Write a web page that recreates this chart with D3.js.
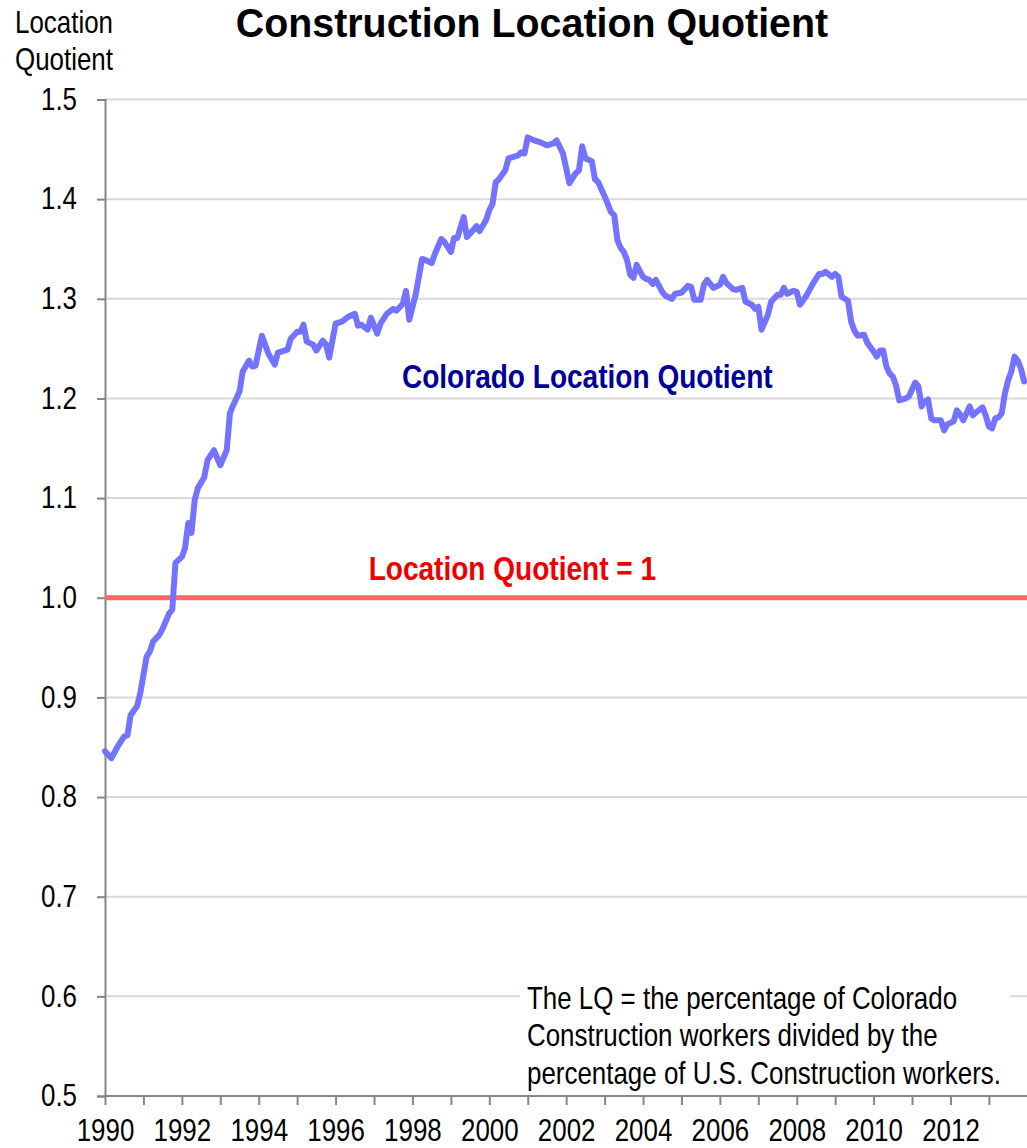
<!DOCTYPE html>
<html>
<head>
<meta charset="utf-8">
<script src="https://cdn.jsdelivr.net/npm/d3@7"></script>
<style>
	body { margin: 0; background: #fff; }
	text { font-family: "Liberation Sans", Arial, sans-serif; }
</style>
</head>
<body>
<script>
// months since Jan 1990 and the Colorado location quotient read at those months
const monthIndex = [
	0, 2, 4, 6, 7, 8, 10, 11, 13, 14,
	15, 17, 18, 20, 21, 22, 24, 25, 26, 27,
	28, 29, 31, 32, 34, 36, 38, 39, 40, 42,
	43, 45, 46, 47, 49, 51, 53, 54, 57, 58,
	60, 61, 62, 63, 65, 66, 68, 69, 70, 72,
	74, 76, 78, 79, 80, 82, 83, 85, 86, 88,
	90, 91, 93, 94, 95, 97, 99, 100, 102, 103,
	105, 106, 108, 109, 110, 112, 113, 115, 116, 117,
	119, 120, 121, 122, 123, 125, 126, 127, 129, 130,
	131, 132, 134, 136, 138, 140, 141, 143, 145, 147,
	148, 149, 150, 152, 153, 154, 156, 158, 159, 160,
	161, 162, 163, 164, 165, 166, 168, 169, 170, 171,
	172, 174, 175, 177, 178, 180, 182, 183, 184, 186,
	187, 188, 190, 192, 193, 194, 196, 197, 199, 200,
	202, 203, 204, 205, 207, 208, 210, 211, 212, 213,
	215, 216, 217, 219, 221, 223, 224, 225, 227, 228,
	229, 230, 232, 233, 234, 235, 237, 238, 240, 241,
	242, 243, 244, 245, 246, 247, 248, 250, 251, 253,
	254, 255, 256, 257, 258, 259, 261, 262, 263, 265,
	266, 267, 268, 269, 270, 271, 272, 274, 275, 276,
	277, 278, 279, 280, 281, 282, 283, 284, 285, 286, 287
];
const coloradoLQ = [
	0.846, 0.839, 0.851, 0.861, 0.862, 0.882, 0.891, 0.904, 0.941, 0.946,
	0.956, 0.963, 0.969, 0.984, 0.988, 1.035, 1.041, 1.050, 1.075, 1.065,
	1.098, 1.110, 1.121, 1.138, 1.148, 1.133, 1.148, 1.185, 1.193, 1.207,
	1.227, 1.238, 1.232, 1.233, 1.263, 1.245, 1.234, 1.246, 1.249, 1.260,
	1.267, 1.267, 1.274, 1.257, 1.254, 1.248, 1.258, 1.254, 1.241, 1.275,
	1.277, 1.282, 1.285, 1.273, 1.274, 1.269, 1.281, 1.265, 1.275, 1.285,
	1.290, 1.288, 1.295, 1.308, 1.279, 1.304, 1.340, 1.339, 1.336, 1.345,
	1.360, 1.357, 1.347, 1.361, 1.361, 1.382, 1.362, 1.369, 1.373, 1.368,
	1.379, 1.389, 1.395, 1.417, 1.420, 1.429, 1.441, 1.442, 1.444, 1.447,
	1.446, 1.462, 1.459, 1.457, 1.454, 1.456, 1.459, 1.446, 1.416, 1.426,
	1.429, 1.453, 1.441, 1.438, 1.420, 1.417, 1.403, 1.387, 1.384, 1.359,
	1.351, 1.347, 1.339, 1.324, 1.321, 1.334, 1.322, 1.320, 1.319, 1.315,
	1.319, 1.307, 1.303, 1.300, 1.305, 1.306, 1.313, 1.312, 1.299, 1.299,
	1.314, 1.319, 1.311, 1.314, 1.322, 1.316, 1.310, 1.309, 1.311, 1.297,
	1.294, 1.290, 1.292, 1.269, 1.284, 1.297, 1.304, 1.304, 1.311, 1.305,
	1.308, 1.307, 1.294, 1.303, 1.315, 1.325, 1.325, 1.327, 1.322, 1.325,
	1.322, 1.302, 1.298, 1.277, 1.268, 1.263, 1.264, 1.256, 1.247, 1.242,
	1.248, 1.248, 1.232, 1.225, 1.222, 1.213, 1.198, 1.200, 1.202, 1.216,
	1.212, 1.192, 1.197, 1.199, 1.180, 1.178, 1.178, 1.168, 1.174, 1.177,
	1.188, 1.184, 1.178, 1.185, 1.192, 1.183, 1.186, 1.191, 1.183, 1.172,
	1.170, 1.180, 1.181, 1.185, 1.205, 1.218, 1.227, 1.242, 1.238, 1.230, 1.217
];

// axis ticks and labels
const yearTicks = d3.range(1990, 2014);
const yTicks = [0.5, 0.6, 0.7, 0.8, 0.9, 1.0, 1.1, 1.2, 1.3, 1.4, 1.5];
const referenceLQ = 1;
const noteLines = [
	"The LQ = the percentage of Colorado",
	"Construction workers divided by the",
	"percentage of U.S. Construction workers."
];

var width = 1027,
	height = 1148;
var margin = { top: 99.5, left: 105, bottom: 52 };
// the original text is a bit narrow and tall
var squeeze = 0.85;

var svg = d3.select("body").append("svg")
	.attr("width", width)
	.attr("height", height);

// squeezes a text sideways around its anchor point
function condense(sel, factor) {
	var f = factor || squeeze;
	sel.each(function () {
		var ax = +this.getAttribute("x") || 0;
		d3.select(this)
			.attr("transform", "translate(" + ax + ",0) scale(" + f + ",1) translate(" + (-ax) + ",0)");
	});
}

// scales: x in years (monthly points), y in LQ
var x = d3.scaleLinear()
	.domain([1990, 2014])
	.range([margin.left, margin.left + 24 * 38.43]);

var y = d3.scaleLinear()
	.domain([0.5, 1.5])
	.range([height - margin.bottom, margin.top]);

// horizontal gridlines
svg.append("g")
	.selectAll("line")
	.data(yTicks.filter(function (d) { return d > 0.5; }))
	.enter().append("line")
	.attr("x1", x(1990))
	.attr("x2", width)
	.attr("y1", function (d) { return y(d); })
	.attr("y2", function (d) { return y(d); })
	.attr("stroke", "#d9d9d9")
	.attr("stroke-width", 2);

// y axis
var yAxis = svg.append("g")
	.attr("transform", "translate(" + x(1990) + ",0)")
	.call(d3.axisLeft(y).tickValues(yTicks).tickFormat(d3.format(".1f")).tickSize(8).tickPadding(20));

// x axis, labels only on even years
var xAxis = svg.append("g")
	.attr("transform", "translate(0," + y(0.5) + ")")
	.call(d3.axisBottom(x).tickValues(yearTicks)
		.tickFormat(function (d) { return d % 2 === 0 ? d : ""; })
		.tickSize(9).tickPadding(14));

[yAxis, xAxis].forEach(function (g) {
	g.select(".domain").attr("stroke", "#868686").attr("stroke-width", 2);
	g.selectAll(".tick line").attr("stroke", "#868686").attr("stroke-width", 2);
	g.selectAll("text")
		.attr("fill", "#000")
		.style("font-size", "30.5px")
		.style("font-family", "'Liberation Sans', Arial, sans-serif");
});
xAxis.select(".domain").attr("d", "M" + x(1990) + ",0H" + width);
// drop the empty labels of odd years
xAxis.selectAll(".tick text").filter(function () { return this.textContent === ""; }).remove();

// note box, covers the gridline behind it
svg.append("rect")
	.attr("x", 520)
	.attr("y", 982)
	.attr("width", 490)
	.attr("height", 110)
	.attr("fill", "#fff");

svg.append("g")
	.selectAll("text")
	.data(noteLines)
	.enter().append("text")
	.attr("x", 527)
	.attr("y", function (d, i) { return 1009 + i * 37.5; })
	.style("font-size", "30.5px")
	.text(function (d) { return d; });

// reference line at LQ = 1
var line = d3.line()
	.x(function (d) { return x(d[0]); })
	.y(function (d) { return y(d[1]); });

svg.append("path")
	.datum([[1990, referenceLQ], [2014, referenceLQ]])
	.attr("d", line)
	.attr("fill", "none")
	.attr("stroke", "#ff6666")
	.attr("stroke-width", 5);

// Colorado series
var series = monthIndex.map(function (m, i) {
	return [1990 + m / 12, coloradoLQ[i]];
});

svg.append("path")
	.datum(series)
	.attr("d", line)
	.attr("fill", "none")
	.attr("stroke", "#7373ff")
	.attr("stroke-width", 6)
	.attr("stroke-linejoin", "round")
	.attr("stroke-linecap", "round");

// labels
svg.append("text")
	.attr("x", x(2002.55))
	.attr("y", y(1.21))
	.attr("text-anchor", "middle")
	.attr("fill", "#000099")
	.style("font-size", "33px")
	.style("font-weight", "bold")
	.text("Colorado Location Quotient");

svg.append("text")
	.attr("x", x(2000.6))
	.attr("y", y(1.018))
	.attr("text-anchor", "middle")
	.attr("fill", "#ee0000")
	.style("font-size", "33px")
	.style("font-weight", "bold")
	.text("Location Quotient = 1");

svg.append("text")
	.attr("x", 532)
	.attr("y", 37)
	.attr("text-anchor", "middle")
	.attr("class", "title")
	.style("font-size", "41px")
	.style("font-weight", "bold")
	.text("Construction Location Quotient")
	.call(condense, 0.96);

svg.append("text")
	.attr("x", 15)
	.attr("y", 33)
	.style("font-size", "30.5px")
	.text("Location");

svg.append("text")
	.attr("x", 15)
	.attr("y", 70)
	.style("font-size", "30.5px")
	.text("Quotient");

svg.selectAll("text:not(.title)").call(condense);
</script>
</body>
</html>
